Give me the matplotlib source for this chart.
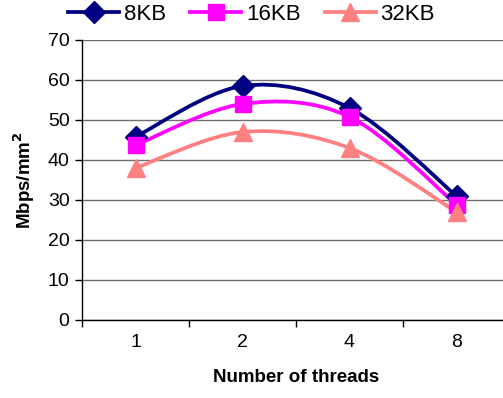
import numpy as np
import matplotlib.pyplot as plt
from matplotlib.path import Path
from matplotlib.patches import PathPatch
from matplotlib.lines import Line2D

threads = ["1", "2", "4", "8"]
kb8 = [45.8, 58.5, 53.0, 31.0]
kb16 = [43.7, 54.0, 50.8, 28.8]
kb32 = [38.0, 47.0, 43.0, 27.0]

series = [
    ("8KB", kb8, "#000080", "D", 11),
    ("16KB", kb16, "#FF00FF", "s", 12),
    ("32KB", kb32, "#FF8080", "^", 13),
]

plt.rcParams['font.family'] = ['Liberation Sans', 'DejaVu Sans']


def smooth_path(xs, ys):
    # Excel-style smoothed line: cubic bezier, catmull-rom control points
    pts = np.column_stack([xs, ys]).astype(float)
    n = len(pts)
    verts = [pts[0]]
    codes = [Path.MOVETO]
    for i in range(n - 1):
        p0 = pts[i - 1] if i > 0 else pts[i]
        p1 = pts[i]
        p2 = pts[i + 1]
        p3 = pts[i + 2] if i + 2 < n else pts[i + 1]
        c1 = p1 + (p2 - p0) / 6.0
        c2 = p2 - (p3 - p1) / 6.0
        verts += [c1, c2, p2]
        codes += [Path.CURVE4] * 3
    return Path(verts, codes)


fig = plt.figure(figsize=(5.03, 3.98), dpi=100)
ax = fig.add_axes([82 / 503, 78 / 398, 428 / 503, 280 / 398])

x = np.arange(len(threads))
handles = []
for name, vals, color, marker, ms in series:
    patch = PathPatch(smooth_path(x, vals), facecolor="none", edgecolor=color,
                      lw=2.7, capstyle="round", joinstyle="round", zorder=3)
    ax.add_patch(patch)
    ax.plot(x, vals, linestyle="none", marker=marker, markersize=ms,
            color=color, markeredgecolor=color, zorder=4)
    handles.append(Line2D([], [], color=color, lw=2.7, marker=marker,
                          markersize=ms, markeredgecolor=color))

ax.set_xlim(-0.5, 3.5)
ax.set_ylim(0, 70)
ax.set_yticks(range(0, 71, 10))
ax.yaxis.grid(True, color="#707070", lw=1.0)
ax.set_axisbelow(True)

ax.set_xticks(np.arange(-0.5, 4, 1.0))
ax.set_xticklabels([])
ax.set_xticks(x, minor=True)
ax.set_xticklabels(threads, minor=True)
ax.tick_params(axis="x", which="major", direction="out", length=5, width=1, color="black")
ax.tick_params(axis="x", which="minor", length=0, pad=10, labelsize=14)
ax.tick_params(axis="y", direction="out", length=5, width=1, labelsize=14, pad=4)

for s in ["top", "right"]:
    ax.spines[s].set_visible(False)
for s in ["left", "bottom"]:
    ax.spines[s].set_color("black")
    ax.spines[s].set_linewidth(1.0)

ax.set_xlabel("Number of threads", fontsize=13.5, fontweight="bold", labelpad=13)
ax.set_ylabel("Mbps/mm$^\\mathbf{2}$", fontsize=13.5, fontweight="bold", labelpad=8)

fig.legend(handles, [s[0] for s in series], loc="center", ncol=3,
           bbox_to_anchor=(0.5, 1 - 14 / 398), frameon=False, fontsize=16,
           handlelength=2.3, handletextpad=0.2, columnspacing=1.1,
           borderaxespad=0)

plt.savefig("out.png", dpi=100)
